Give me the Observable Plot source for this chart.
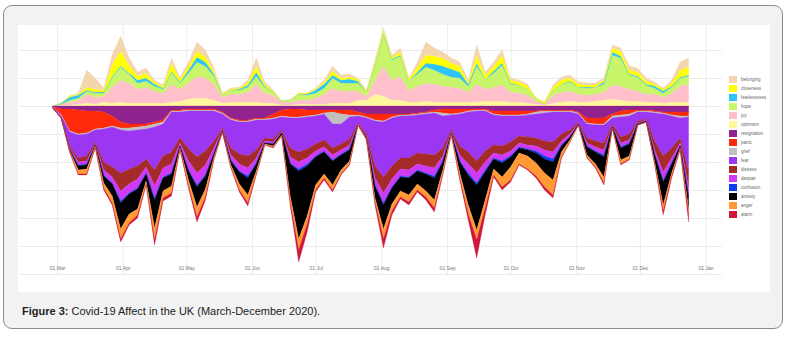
<!DOCTYPE html>
<html><head><meta charset="utf-8">
<script src="https://cdn.jsdelivr.net/npm/d3@7"></script>
<script src="https://cdn.jsdelivr.net/npm/@observablehq/plot@0.6"></script>
<style>
body{margin:0;background:#fff;font-family:"Liberation Sans",Arial,sans-serif;}
#box{position:absolute;left:3px;top:5px;width:778px;height:322px;border:1px solid #8c8c8c;border-radius:9px;background:#f2f2f2;}
#white{position:absolute;left:18px;top:25px;width:752px;height:267px;background:#fff;}
#legend{position:absolute;left:729px;top:75px;}
.row{display:flex;align-items:center;height:9px;}
.sw{width:8px;height:7px;}
.lab{margin-left:4px;font-size:4.5px;color:#666;line-height:9px;white-space:nowrap;}
#caption{position:absolute;left:22px;top:305px;font-size:11px;color:#222;white-space:nowrap;}
</style></head>
<body>
<div id="box"></div>
<div id="white"></div>
<div id="legend"></div>
<div id="caption"><b>Figure 3:</b> Covid-19 Affect in the UK (March-December 2020).</div>
<script>
// first sample date, samples every 4 days
const firstDate = "2020-02-28";
const stepDays = 4;
const monthTicks = ["2020-03-01","2020-04-01","2020-05-01","2020-06-01","2020-07-01","2020-08-01","2020-09-01","2020-10-01","2020-11-01","2020-12-01","2021-01-01"];

// positive affects (stacked upward, from zero outward)
const optimism = [0,1,1,2,3,2,4,3,4,3, 3,3,3,3,4,5,7,8,8,6, 3,4,4,4,4,3,3,1,1,2, 2,2,2,3,3,3,6,6,12,10, 6,6,4,4,5,4,4,4,4,4, 4,5,5,5,4,4,3,2,1,3, 4,5,4,4,5,6,7,6,5,5, 4,4,3,4,4,4];
const joy = [0,1,3,4,9,7,6,16,22,20, 14,16,12,10,18,12,16,22,20,16, 6,8,8,10,18,10,8,3,3,4, 4,6,10,15,12,12,9,4,14,30, 20,24,12,16,18,18,16,15,14,10, 18,12,14,16,10,9,8,3,1,8, 10,10,8,7,7,8,14,14,12,10, 8,8,6,9,16,18];
const hope = [0,0,2,2,3,4,3,10,13,9, 6,6,5,4,12,6,10,14,12,8, 2,4,4,5,8,6,3,1,2,6, 5,5,6,10,8,8,8,4,14,32, 20,20,9,12,16,14,12,10,10,6, 18,10,14,20,8,8,6,2,0,5, 8,9,7,7,7,8,30,28,14,14, 9,6,4,6,8,8];
const fearlessness = [0,1,3,3,1,1,1,1,1,1, 3,3,2,1,1,1,3,5,4,2, 0,0,1,2,4,1,0,0,0,0, 1,3,4,3,3,4,2,0,1,1, 1,1,0,2,4,6,8,8,6,2, 3,0,2,2,1,0,0,0,0,0, 0,1,0,1,0,2,3,2,1,1, 1,2,2,1,1,1];
const closeness = [0,0,1,1,3,3,2,12,15,8, 4,5,2,2,8,3,4,6,5,3, 1,1,1,3,6,2,1,0,0,1, 1,1,2,4,2,2,2,1,3,3, 2,3,2,5,8,8,8,6,6,2, 8,4,5,8,3,3,3,1,2,3, 4,3,3,2,2,2,4,5,4,4, 3,2,2,3,7,8];
const belonging = [0,0,0,1,17,11,2,9,15,7, 4,5,2,1,5,2,4,9,7,3, 1,1,1,2,8,2,1,0,0,0, 0,1,2,5,3,3,1,1,2,2, 2,4,1,5,13,8,6,5,4,2, 10,3,4,5,2,2,2,0,0,2, 3,3,2,2,2,2,3,3,4,4, 3,2,1,3,8,9];

// negative affects (magnitudes, stacked downward, from zero outward)
const resignation = [1,3,3,4,5,5,6,10,16,18, 18,18,16,14,4,4,3,3,3,3, 6,12,14,14,12,12,8,4,3,3, 4,4,4,4,4,4,6,8,8,8, 8,8,8,7,6,4,3,3,3,3, 3,3,5,5,5,5,5,5,4,4, 4,4,6,12,12,12,8,5,4,4, 4,5,6,6,6,6];
const panic = [0,6,22,24,22,18,16,10,6,4, 3,2,2,2,1,1,1,1,1,1, 1,1,1,1,1,1,4,6,8,8, 6,5,3,2,4,5,3,3,6,7, 3,1,1,1,1,2,4,5,4,2, 1,1,3,4,4,4,3,1,1,1, 1,1,1,5,6,6,2,4,4,1, 1,1,1,3,4,4];
const grief = [0,1,1,1,1,1,1,1,2,3, 3,3,3,2,1,1,1,1,1,1, 1,1,1,1,1,1,1,1,1,1, 1,1,1,12,10,2,1,1,1,1, 1,1,1,1,1,1,3,1,1,1, 1,1,1,1,1,1,1,2,2,1, 1,1,1,1,1,1,2,2,2,1, 1,1,1,1,2,1];
const fear = [1,2,15,23,22,12,33,40,43,38, 36,30,43,32,40,26,38,46,40,30, 14,28,32,34,30,18,20,13,30,34, 32,28,26,24,20,22,7,16,45,55, 48,42,42,38,40,42,32,15,32,40, 50,40,30,30,26,20,22,24,28,30, 22,18,8,14,16,18,6,20,18,9, 7,28,42,32,20,55];
const distress = [0,0,2,4,5,2,8,10,18,15, 13,8,16,12,12,5,12,16,14,7, 2,7,10,12,8,3,3,2,9,10, 9,7,7,7,6,6,1,3,12,16, 13,11,12,11,12,13,8,2,9,12, 12,11,8,9,9,7,8,8,9,10, 7,4,1,5,6,7,2,6,6,2, 1,9,16,10,5,15];
const despair = [0,0,1,3,3,1,5,6,10,9, 9,6,12,9,9,3,9,12,10,5, 1,5,7,8,5,2,2,1,6,7, 6,5,4,5,4,4,1,1,7,10, 8,7,7,6,7,8,5,1,6,9, 10,8,5,6,5,4,4,5,6,7, 4,3,1,3,4,5,1,4,3,1, 1,4,8,5,3,8];
const confusion = [0,0,0,1,1,0,1,1,2,1, 1,1,2,1,1,0,1,2,1,1, 0,1,1,2,1,0,0,0,1,2, 2,1,1,1,1,1,0,0,1,2, 1,1,1,1,1,2,1,0,1,2, 2,2,1,2,1,1,1,2,3,3, 1,0,0,1,1,2,0,1,1,0, 0,1,2,1,0,2];
const anxiety = [0,0,1,4,4,1,7,12,26,20, 20,7,28,13,12,2,9,20,13,3, 1,4,12,17,7,1,2,2,32,68, 50,28,22,24,15,11,0,1,12,24, 16,14,17,13,17,22,8,1,11,30, 45,28,10,14,10,5,6,10,14,18, 6,3,1,8,12,20,1,12,12,1, 1,7,23,9,2,12];
const anger = [0,0,1,4,5,1,5,7,10,9, 6,3,12,7,7,1,6,10,8,2, 0,2,6,8,3,1,1,1,6,11, 8,5,4,5,4,3,0,1,4,10, 7,6,7,6,6,8,4,1,5,9, 10,8,6,10,13,11,13,13,14,15, 5,2,0,2,3,6,0,4,3,0, 0,2,6,3,1,5];
const alarm = [0,0,1,1,1,1,2,2,3,2, 3,1,5,3,3,1,2,5,3,1, 0,1,2,3,1,0,1,0,3,12, 8,2,2,2,1,1,0,0,3,9, 4,2,3,2,3,4,1,0,2,6, 18,7,2,3,2,1,1,2,3,3, 1,0,0,1,1,2,0,1,1,0, 0,1,4,2,1,8];

const legendNames = ["belonging","closeness","fearlessness","hope","joy","optimism","resignation","panic","grief","fear","distress","despair","confusion","anxiety","anger","alarm"];
const legendColors = ["#f3d5ae","#ffff00","#2ec4f5","#c8f56a","#ffc0cb","#fff79c","#902390","#ff2a0a","#c0c0c0","#9b36f3","#a52a2a","#cf3af7","#0a3cf5","#000000","#ff9a35","#cf173a"];

const positive = {optimism, joy, hope, fearlessness, closeness, belonging};
const negative = {resignation, panic, grief, fear, distress, despair, confusion, anxiety, anger, alarm};
const stackOrder = [...Object.keys(positive), ...Object.keys(negative)];

const dates = optimism.map((_, i) => d3.utcDay.offset(new Date(firstDate), stepDays * i));
const rows = [];
dates.forEach((date, i) => {
  for (const [k, arr] of Object.entries(positive)) rows.push({date, emotion: k, value: arr[i]});
  // keep empty negative layers on the negative side of the stack
  for (const [k, arr] of Object.entries(negative)) rows.push({date, emotion: k, value: arr[i] === 0 ? -1e-9 : -arr[i]});
});
const tickDates = monthTicks.map(d => new Date(d));
const gridVals = [-168, -140, -112, -84, -56, -28, 0, 28, 56];

const chart = Plot.plot({
  width: 752, height: 267,
  marginLeft: 2, marginRight: 48, marginTop: 0, marginBottom: 18,
  style: {fontFamily: "Liberation Sans, Arial, sans-serif", background: "transparent"},
  x: {type: "utc", domain: [new Date("2020-02-12T12:00Z"), new Date("2021-01-08T18:00Z")], label: null},
  y: {domain: [-168, 81], axis: null},
  color: {domain: legendNames, range: legendColors},
  marks: [
    Plot.gridY(gridVals, {stroke: "#ebebeb", strokeOpacity: 1}),
    Plot.gridX(tickDates, {stroke: "#ededed", strokeOpacity: 1}),
    Plot.areaY(rows, {x: "date", y: "value", z: "emotion", fill: "emotion", stroke: "emotion", strokeWidth: 0.3, order: stackOrder, curve: "linear"}),
    Plot.axisX(tickDates, {tickSize: 0, tickPadding: 3, dy: -11.5, fontSize: 5, fill: "#777", tickFormat: d3.utcFormat("%d %b"), label: null})
  ]
});
chart.style.position = "absolute";
chart.style.left = "0px";
chart.style.top = "0px";
document.getElementById("white").appendChild(chart);

const leg = document.getElementById("legend");
legendNames.forEach((n, i) => {
  const r = document.createElement("div"); r.className = "row";
  const s = document.createElement("div"); s.className = "sw"; s.style.background = legendColors[i];
  const l = document.createElement("div"); l.className = "lab"; l.textContent = n;
  r.appendChild(s); r.appendChild(l); leg.appendChild(r);
});
</script>
</body></html>
